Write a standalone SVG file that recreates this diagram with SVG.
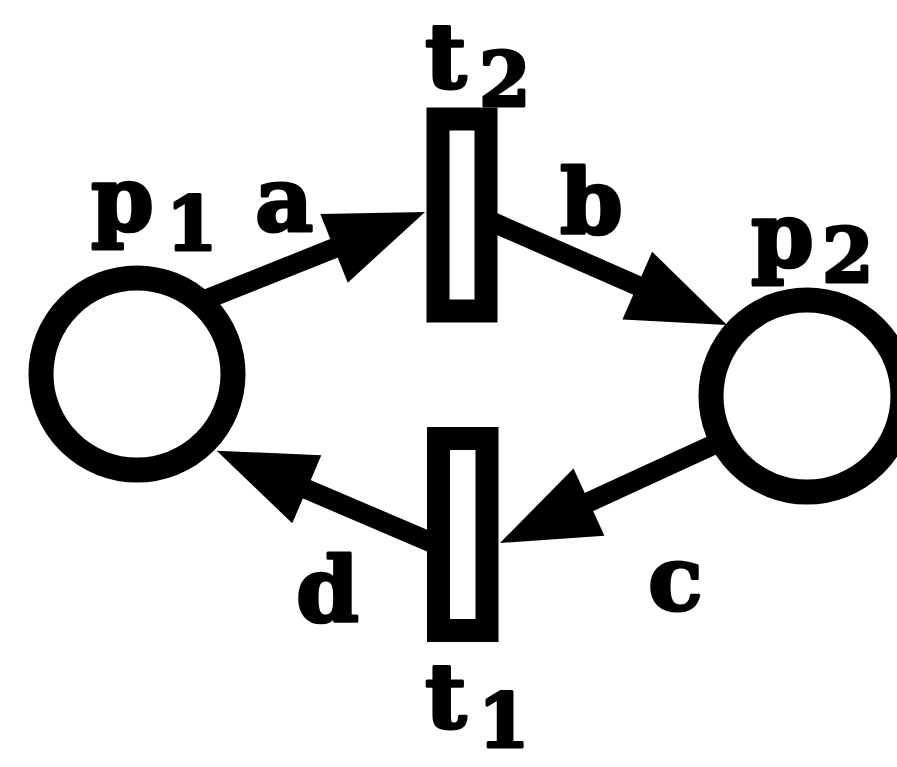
<svg xmlns="http://www.w3.org/2000/svg" width="897" height="767" viewBox="0 0 897 767">
<style>
.place{fill:#fff;stroke:#000;stroke-width:25}
.trans{fill:#fff;stroke:#000;stroke-width:23}
.arc{stroke:#000;stroke-width:20;fill:none;marker-end:url(#head)}
.lbl{font-family:"DejaVu Serif","Liberation Serif",serif;font-weight:bold;font-size:90px;fill:#000;stroke:#000;stroke-width:3;stroke-linejoin:round}
.sub{font-size:74px}
</style>
<defs>
<marker id="head" markerUnits="userSpaceOnUse" viewBox="0 0 98 74" markerWidth="98" markerHeight="74" refX="20" refY="37" orient="auto" overflow="visible">
<path d="M0,0 L98,37 L0,74 z" fill="#000"/>
</marker>
</defs>
<rect width="897" height="767" fill="#fff"/>
<g id="connectors">
<line id="arc-a" class="arc" x1="207" y1="299" x2="352.6" y2="240.9"/>
<line id="arc-b" class="arc" x1="490" y1="221" x2="655.6" y2="293.6"/>
<line id="arc-c" class="arc" x1="719.7" y1="441.8" x2="570.8" y2="510.4"/>
<line id="arc-d" class="arc" x1="435" y1="544" x2="288.4" y2="481.4"/>
</g>
<g id="p1">
<circle class="place" cx="137" cy="374" r="96"/>
<text class="lbl" x="91" y="230">p<tspan class="sub" x="166" y="250">1</tspan></text>
</g>
<g id="p2">
<circle class="place" cx="807" cy="396" r="96"/>
<text class="lbl" x="751" y="266">p<tspan class="sub" x="822" y="282">2</tspan></text>
</g>
<g id="t2">
<rect class="trans" x="438" y="119" width="48" height="192"/>
<text class="lbl" x="425" y="88">t<tspan class="sub" x="479" y="106">2</tspan></text>
</g>
<g id="t1">
<rect class="trans" x="438.5" y="438.5" width="48.5" height="192"/>
<text class="lbl" x="425" y="728">t<tspan class="sub" x="478" y="747">1</tspan></text>
</g>
<g id="labels">
<text class="lbl" x="255" y="231">a</text>
<text class="lbl" x="560" y="233">b</text>
<text class="lbl" x="648" y="610">c</text>
<text class="lbl" x="296" y="621">d</text>
</g>
</svg>
